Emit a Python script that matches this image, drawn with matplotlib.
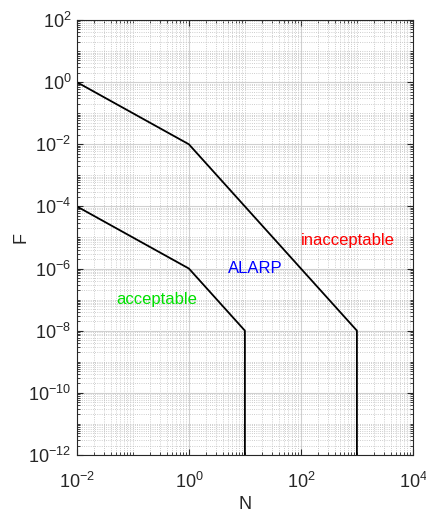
import numpy as np
import matplotlib
matplotlib.use("Agg")
import matplotlib.pyplot as plt
from matplotlib.ticker import LogLocator, NullFormatter

plt.rcParams['font.family'] = ['Liberation Sans', 'DejaVu Sans']
plt.rcParams['mathtext.fontset'] = 'custom'
plt.rcParams['mathtext.rm'] = 'Liberation Sans'

# limit lines of the F-N diagram
upper_n = [1e-2, 1e0, 1e3, 1e3]
upper_f = [1e0, 1e-2, 1e-8, 1e-12]
lower_n = [1e-2, 1e0, 1e1, 1e1]
lower_f = [1e-4, 1e-6, 1e-8, 1e-12]

# region labels
region_names = ["inacceptable", "ALARP", "acceptable"]
region_n = [1.0e2, 5.0, 0.05]
region_f = [8e-6, 1e-6, 1e-7]
region_colors = ["#ff0000", "#0000ff", "#00e000"]

axcol = "#262626"

fig = plt.figure(figsize=(4.27, 5.14), dpi=100)
ax = fig.add_axes([0.180, 0.115, 0.787, 0.846])

ax.plot(upper_n, upper_f, color="black", lw=1.3)
ax.plot(lower_n, lower_f, color="black", lw=1.3)

for name, n, f, c in zip(region_names, region_n, region_f, region_colors):
    ax.text(n, f, name, color=c, fontsize=12, ha="left", va="center")

ax.set_xscale("log")
ax.set_yscale("log")
ax.set_xlim(1e-2, 1e4)
ax.set_ylim(1e-12, 1e2)

ax.set_xticks([1e-2, 1e0, 1e2, 1e4])
ax.set_yticks([1e-12, 1e-10, 1e-8, 1e-6, 1e-4, 1e-2, 1e0, 1e2])
ax.xaxis.set_minor_locator(LogLocator(base=10, subs=np.arange(1, 10), numticks=100))
ax.yaxis.set_minor_locator(LogLocator(base=10, subs=np.arange(1, 10), numticks=100))
ax.xaxis.set_minor_formatter(NullFormatter())
ax.yaxis.set_minor_formatter(NullFormatter())

ax.grid(True, which="major", color="#d0d0d0", lw=0.8, ls="-")
ax.grid(True, which="minor", color="#bdbdbd", lw=0.6, ls=":")
ax.set_axisbelow(True)

ax.tick_params(which="both", direction="in", top=True, right=True, colors=axcol, labelsize=13)
ax.tick_params(which="major", length=4)
ax.tick_params(which="minor", length=2)
ax.tick_params(axis="x", which="major", pad=12)
ax.tick_params(axis="y", which="major", pad=4)
for s in ax.spines.values():
    s.set_color(axcol)
    s.set_linewidth(0.8)

ax.set_xlabel("N", fontsize=13, color=axcol, labelpad=3)
ax.set_ylabel("F", fontsize=13, color=axcol, labelpad=-1)

fig.savefig("out.png", dpi=100)
